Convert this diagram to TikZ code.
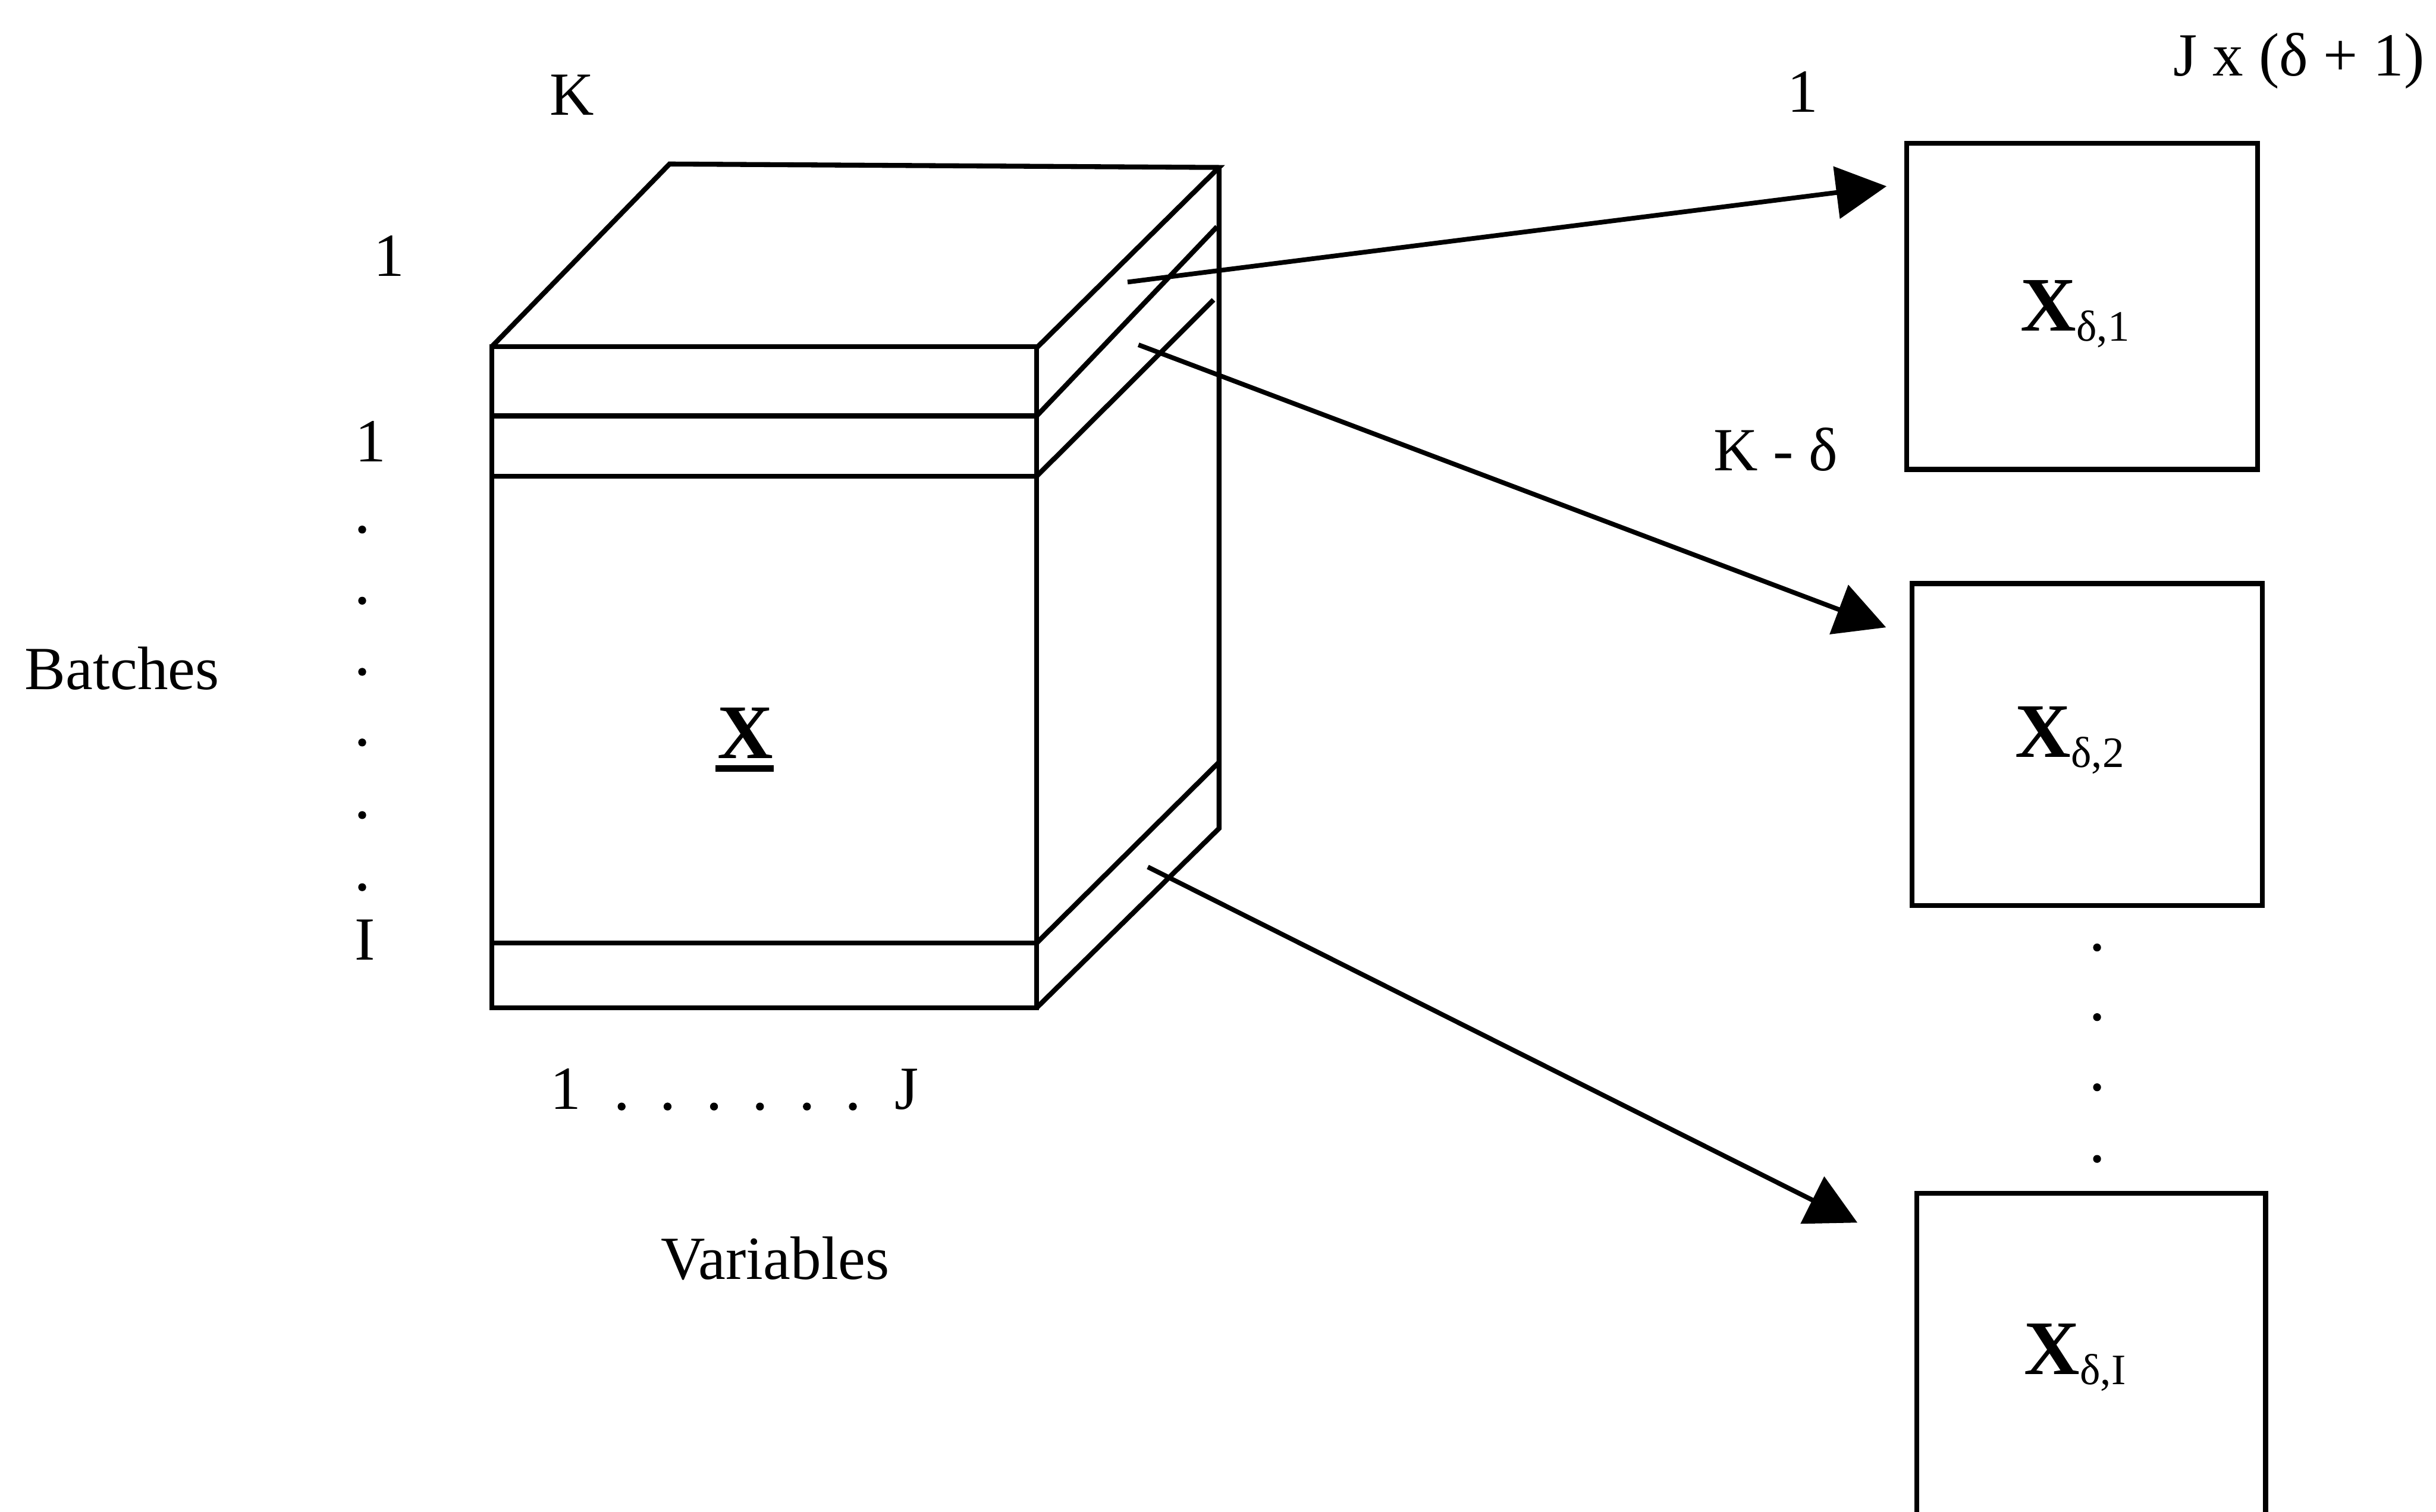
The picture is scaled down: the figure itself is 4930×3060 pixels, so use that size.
\documentclass[tikz,border=0pt]{standalone}
\usepackage{fontspec}
\setmainfont{Liberation Serif}
\usetikzlibrary{arrows.meta}
\begin{document}
\begin{tikzpicture}[x=0.01cm,y=-0.01cm,
  lbl/.style={font=\fontsize{35.3pt}{40pt}\selectfont, inner sep=0pt, anchor=base},
  bigx/.style={font=\fontsize{44.4pt}{50pt}\selectfont\bfseries, inner sep=0pt, anchor=base west},
  edge/.style={line width=0.10cm, line join=miter},
  boxstyle/.style={draw, line width=0.10cm, inner sep=0pt},
  arr/.style={line width=0.095cm, -{Triangle[length=1.02cm,width=1.05cm]}},
  dotmark/.style={fill=black}
]
\useasboundingbox (0,0) rectangle (4930,3060);
\fill[white] (0,0) rectangle (4930,3060);
\clip (0,0) rectangle (4930,3060);

% ---------- cube ----------
\draw[edge] (995,702) rectangle (2098,2040);
\draw[edge] (995,702) -- (1355,332) -- (2467,339) -- (2098,704);
\draw[edge] (2467,339) -- (2467,1677) -- (2098,2040);
\draw[edge] (995,842) -- (2098,842);
\draw[edge] (995,964) -- (2098,964);
\draw[edge] (995,1909) -- (2098,1909);
\draw[edge] (2098,842) -- (2463,459);
\draw[edge] (2098,964) -- (2456,607);
\draw[edge] (2098,1909) -- (2467,1543);

% cube label
\node[bigx] (cx) at (1452,1535) {X};
\draw[line width=0.13cm] (1448,1556) -- (1566,1556);

% ---------- axis labels ----------
\node[lbl] (k) at (1157,233) {K};
\node[lbl] (b1lbl) at (788,559) {1};
\node[lbl] (b2lbl) at (750,935) {1};
\foreach \yy in {1072,1216,1360,1503,1650,1796}
  \fill[dotmark] (733,\yy) circle (0.08cm);
\node[lbl] (ilbl) at (739,1943) {I};
\node[lbl] (batches) at (247,1395) {Batches};

\node[lbl] (v1) at (1145,2245) {1};
\foreach \xx in {1258,1351,1445,1538,1633,1726}
  \fill[dotmark] (\xx,2240) circle (0.08cm);
\node[lbl] (vj) at (1835,2245) {J};
\node[lbl] (variables) at (1569,2590) {Variables};

% ---------- right side ----------
\node[lbl] (one) at (3649,227) {1};
\node[lbl] (jx) at (4653,153) {J x (δ + 1)};
\node[lbl] (kd) at (3594,953) {K - δ};

\node[boxstyle, minimum width=7.10cm, minimum height=6.60cm] (box1) at (4214,620) {};
\node[boxstyle, minimum width=7.08cm, minimum height=6.51cm] (box2) at (4224,1507) {};
\node[boxstyle, minimum width=7.06cm, minimum height=7.84cm] (box3) at (4232,2808) {};

\node[bigx] (x1) at (4089,670) {X{\fontsize{25pt}{27pt}\selectfont\mdseries\raisebox{-0.2cm}{δ,1}}};
\node[bigx] (x2) at (4078,1533) {X{\fontsize{25pt}{27pt}\selectfont\mdseries\raisebox{-0.2cm}{δ,2}}};
\node[bigx] (x3) at (4096,2782) {X{\fontsize{25pt}{27pt}\selectfont\mdseries\raisebox{-0.2cm}{δ,I}}};

\foreach \yy in {1918,2059,2201,2346}
  \fill[dotmark] (4244,\yy) circle (0.08cm);

% ---------- arrows ----------
\coordinate (s1) at (2282,571);
\coordinate (t1) at (3818,377);
\coordinate (s2) at (2304,698);
\coordinate (t2) at (3817,1270);
\coordinate (s3) at (2323,1755);
\coordinate (t3) at (3759,2475);
\draw[arr] (s1) -- (t1);
\draw[arr] (s2) -- (t2);
\draw[arr] (s3) -- (t3);
\end{tikzpicture}
\end{document}
